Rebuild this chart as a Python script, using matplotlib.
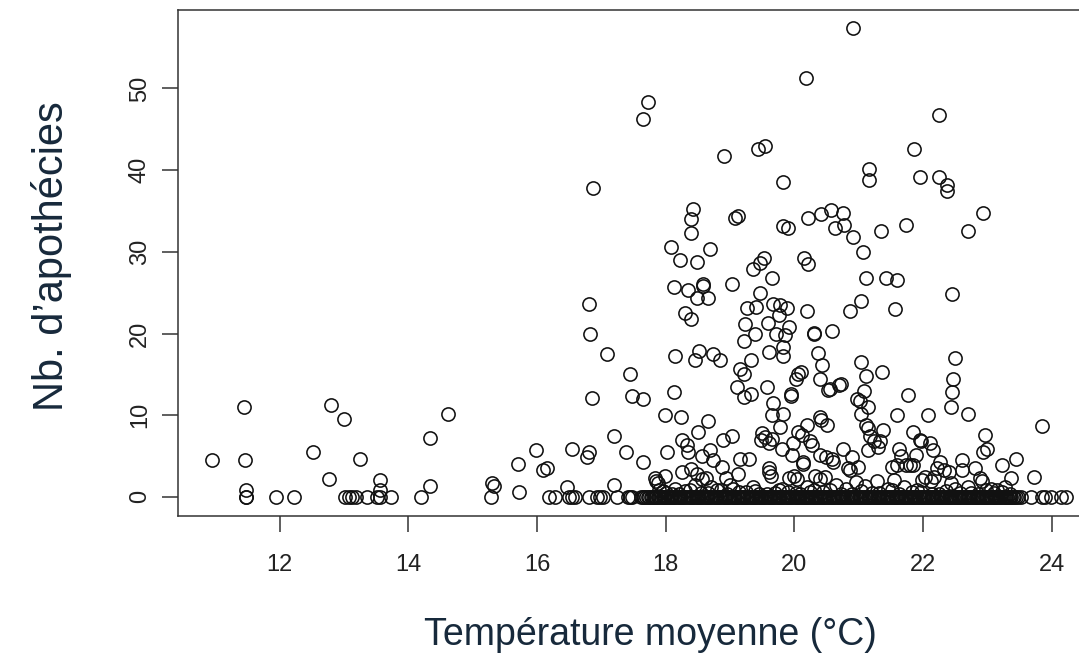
import matplotlib
matplotlib.use("Agg")
import matplotlib.pyplot as plt

# ---- data ----
# points with a non-zero count: (temperature, count)
temp_pos = [
    17.72, 17.64, 18.91, 19.44, 19.54, 16.87, 19.83,
    20.91, 20.18, 22.24, 21.86, 21.16, 21.16, 21.95, 22.24, 22.37, 22.37,
    18.43, 18.39, 19.08, 19.12, 18.39, 18.08, 18.69, 18.22, 18.48, 19.36, 19.46, 19.53,
    19.65, 18.13, 18.35, 18.58, 18.58, 19.03, 18.48, 18.65, 19.46, 19.27, 19.40, 19.67,
    19.76, 16.80, 18.30, 18.40, 19.23, 19.59, 19.39, 16.83, 19.21, 19.72, 17.08, 18.14,
    18.52, 18.45, 18.74, 18.84, 19.32, 19.16, 19.61, 19.21, 17.45, 19.10, 19.58, 18.13,
    16.86, 17.48, 17.65, 19.21, 19.32, 19.66,
    22.93, 22.69, 20.57, 20.76, 20.42, 20.21, 19.83, 19.90, 20.63, 20.77, 20.91, 21.34,
    21.73, 21.07, 20.15, 20.21, 21.12, 21.43, 21.59, 22.45, 21.03, 20.86, 21.57, 19.89,
    19.77, 20.20, 19.92, 19.86, 20.31, 20.31, 20.58, 19.83, 19.83, 20.36, 20.43, 21.04,
    21.11, 21.36, 22.49, 22.47, 22.45, 20.10, 20.06, 20.03, 20.40, 20.72, 20.56, 21.08,
    19.95, 19.95, 20.97, 21.77,
    10.95, 11.44, 11.46, 11.47, 12.52, 12.80, 13.00, 12.76, 13.25, 13.56, 13.56, 14.34,
    14.34, 14.61,
    15.30, 15.33, 15.72, 15.71, 15.98, 16.10, 16.15, 16.47, 16.54, 16.78, 16.81, 17.19,
    17.20, 17.38, 17.65, 17.99, 18.23, 18.02, 17.83, 17.85, 17.88, 17.99, 18.25, 18.33,
    18.35, 18.50, 18.65, 18.69, 18.57, 18.74, 18.89, 19.03, 18.87, 19.12, 18.93, 19.16,
    19.29, 19.65, 19.50, 19.48, 19.55, 19.60, 19.65, 19.60, 19.61, 19.63, 19.36,
    18.25, 18.40, 18.48, 18.57, 18.62, 18.45, 18.70, 19.00, 19.05, 18.15,
    19.83, 19.77, 20.39, 20.42, 20.51, 20.05, 20.11, 20.19, 20.24, 20.27, 19.98, 19.80,
    19.96, 20.14, 20.13, 20.39, 20.49, 20.58, 20.60, 20.76, 20.89, 20.84, 20.86, 20.99,
    19.92, 20.00, 20.04, 20.32, 20.40, 20.47, 20.52, 20.70, 21.02, 21.03, 21.14, 21.12,
    21.15, 21.17, 21.14, 21.23, 21.30, 21.33, 21.37, 21.28, 21.55, 21.60, 21.63, 21.51,
    21.59, 21.66, 21.74, 21.79, 21.84, 21.85, 21.95, 21.97, 21.89, 22.08, 22.10, 22.16,
    22.22, 22.27, 22.32, 22.40, 22.17, 22.12, 21.98, 22.03, 22.44, 22.69, 22.60, 22.61,
    22.80, 22.88, 22.91, 22.44, 22.96, 22.99, 22.93, 23.23, 23.44, 23.37, 23.84, 23.72,
    23.27,
    20.65, 20.80, 20.95, 21.10, 21.45, 21.70, 21.90, 22.50, 22.70, 23.05, 23.15, 19.80,
    19.90, 20.20, 20.30, 18.80, 18.30, 18.00, 17.90,
    18.10, 18.55, 18.95, 19.25, 19.45, 19.70, 20.08, 20.45, 20.90, 21.20, 21.62, 21.82,
    22.25, 22.58, 22.85, 23.10, 23.35,
    17.95, 18.20, 18.38, 18.66, 18.86, 19.14, 19.38, 19.58, 19.76, 20.02, 20.24, 20.56,
    20.72, 21.04, 21.32, 21.52, 21.96, 22.14, 22.36, 22.75, 22.98, 23.22,
]
nb_pos = [
    48.3, 46.3, 41.7, 42.6, 42.9, 37.8, 38.6,
    57.4, 51.3, 46.8, 42.6, 40.1, 38.8, 39.1, 39.1, 38.2, 37.4,
    35.3, 34.0, 34.1, 34.4, 32.3, 30.6, 30.3, 29.0, 28.8, 27.9, 28.6, 29.3,
    26.8, 25.7, 25.3, 26.0, 25.8, 26.0, 24.3, 24.3, 25.0, 23.1, 23.3, 23.6,
    22.3, 23.6, 22.5, 21.8, 21.2, 21.3, 20.0, 20.0, 19.1, 19.9, 17.5, 17.2,
    17.8, 16.8, 17.5, 16.8, 16.8, 15.7, 17.7, 15.0, 15.0, 13.5, 13.5, 12.8,
    12.1, 12.4, 12.0, 12.2, 12.6, 11.5,
    34.8, 32.5, 35.1, 34.8, 34.6, 34.1, 33.2, 32.9, 32.9, 33.3, 31.8, 32.5,
    33.3, 30.0, 29.3, 28.5, 26.8, 26.8, 26.5, 24.8, 24.0, 22.8, 23.0, 23.1,
    23.5, 22.8, 20.8, 19.8, 20.1, 19.9, 20.3, 18.4, 17.2, 17.6, 16.2, 16.5,
    14.8, 15.3, 17.0, 14.4, 12.8, 15.3, 15.0, 14.4, 14.4, 13.8, 13.2, 13.0,
    12.6, 12.3, 12.0, 12.5,
    4.5, 11.0, 4.5, 0.9, 5.5, 11.3, 9.5, 2.2, 4.6, 0.8, 2.1, 1.3,
    7.2, 10.2,
    1.7, 1.3, 0.6, 4.0, 5.8, 3.3, 3.5, 1.2, 5.9, 4.9, 5.5, 7.5,
    1.5, 5.5, 4.3, 10.0, 9.8, 5.5, 2.3, 1.9, 1.7, 2.5, 7.0, 6.4,
    5.5, 8.0, 9.3, 5.7, 5.0, 4.5, 7.0, 7.5, 3.7, 2.8, 2.3, 4.7,
    4.7, 10.0, 7.8, 7.0, 7.3, 6.6, 7.1, 3.5, 3.0, 2.5, 1.2,
    3.0, 3.4, 2.8, 2.2, 2.3, 1.5, 1.2, 1.5, 1.0, 1.0,
    10.2, 8.6, 9.8, 9.4, 8.8, 8.0, 7.6, 8.8, 6.8, 6.3, 6.6, 5.9,
    5.1, 4.3, 4.0, 5.1, 4.9, 4.7, 4.3, 5.9, 4.9, 3.5, 3.3, 3.7,
    2.3, 2.5, 2.2, 2.6, 2.2, 2.4, 13.1, 13.7, 11.7, 10.2, 11.0, 8.8,
    8.4, 7.5, 5.8, 6.9, 6.1, 6.9, 8.2, 1.9, 2.1, 10.0, 5.9, 3.7,
    3.9, 5.0, 3.9, 3.9, 3.9, 8.0, 7.0, 6.8, 5.1, 10.0, 6.6, 5.7,
    3.5, 4.3, 3.3, 3.0, 2.4, 1.9, 2.1, 2.4, 11.0, 10.2, 4.5, 3.3,
    3.5, 2.3, 1.9, 1.7, 7.6, 5.9, 5.5, 3.9, 4.7, 2.3, 8.7, 2.4,
    1.2,
    1.5, 1.0, 1.8, 1.3, 1.0, 1.2, 0.8, 1.0, 1.2, 1.0, 0.8, 1.0,
    0.6, 1.2, 0.9, 0.8, 0.7, 0.5, 0.9,
    0.4, 0.5, 0.3, 0.6, 0.4, 0.5, 0.3, 0.6, 0.4, 0.5, 0.3, 0.6,
    0.4, 0.5, 0.3, 0.5, 0.4,
    0.7, 0.4, 0.8, 0.5, 0.9, 0.6, 0.7, 0.4, 0.8, 0.5, 0.6, 0.9,
    0.4, 0.7, 0.5, 0.8, 0.6, 0.4, 0.7, 0.5, 0.8, 0.6,
]
# points with a count of zero: temperature only
temp_zero = [
    11.47, 11.48, 11.94, 12.23, 13.02, 13.07, 13.12, 13.18, 13.36, 13.52, 13.56, 13.73,
    14.20, 15.29, 16.19, 16.28, 16.49, 16.55, 16.59, 16.80, 16.93, 16.98, 17.02, 17.24,
    17.41, 17.45, 17.48,
    17.61, 17.66, 17.69, 17.74, 17.77, 17.81, 17.85, 17.88, 17.92, 17.95, 17.99, 18.02,
    18.06, 18.08, 18.13, 18.15, 18.20, 18.22, 18.27, 18.29, 18.34, 18.37, 18.41, 18.43,
    18.48, 18.50, 18.55, 18.57, 18.62, 18.64, 18.69, 18.71, 18.76, 18.78, 18.83, 18.85,
    18.90, 18.92, 18.97, 18.99, 19.04, 19.06, 19.11, 19.13, 19.18, 19.20, 19.25, 19.27,
    19.32, 19.34, 19.39, 19.41, 19.46, 19.48, 19.53, 19.55, 19.60, 19.62, 19.67, 19.69,
    19.74, 19.76, 19.81, 19.83, 19.88, 19.90, 19.95, 19.97, 20.02, 20.04, 20.09, 20.11,
    20.16, 20.18, 20.23, 20.25, 20.30, 20.32, 20.37, 20.39, 20.44, 20.46, 20.51, 20.53,
    20.58, 20.60, 20.65, 20.67, 20.72, 20.74, 20.79, 20.81, 20.86, 20.88, 20.93, 20.95,
    21.00, 21.02, 21.07, 21.09, 21.14, 21.16, 21.21, 21.23, 21.28, 21.30, 21.35, 21.37,
    21.42, 21.44, 21.49, 21.51, 21.56, 21.58, 21.63, 21.65, 21.70, 21.72, 21.77, 21.79,
    21.84, 21.86, 21.91, 21.93, 21.98, 22.00, 22.05, 22.07, 22.12, 22.14, 22.19, 22.21,
    22.26, 22.28, 22.33, 22.35, 22.40, 22.42, 22.47, 22.49, 22.54, 22.56, 22.61, 22.63,
    22.68, 22.70, 22.75, 22.77, 22.82, 22.84, 22.89, 22.91, 22.96, 22.98, 23.03, 23.05,
    23.10, 23.12, 23.17, 23.19, 23.24, 23.27, 23.31, 23.35, 23.39, 23.44,
    23.52, 23.68, 23.84, 23.89, 23.99, 24.14, 24.22,
]
# further zero counts packed inside the dense band
temp_zero_band = [
    17.64, 17.72, 17.79, 17.83, 17.90, 17.97, 18.04, 18.10, 18.17, 18.24, 18.31, 18.39,
    18.45, 18.52, 18.59, 18.66, 18.73, 18.80, 18.87, 18.94, 19.01, 19.08, 19.15, 19.22,
    19.29, 19.36, 19.43, 19.50, 19.57, 19.64, 19.71, 19.78, 19.85, 19.92, 19.99, 20.06,
    20.13, 20.20, 20.27, 20.34, 20.41, 20.48, 20.55, 20.62, 20.69, 20.76, 20.83, 20.90,
    20.97, 21.04, 21.11, 21.18, 21.25, 21.32, 21.39, 21.46, 21.53, 21.60, 21.67, 21.74,
    21.81, 21.88, 21.95, 22.02, 22.09, 22.16, 22.23, 22.30, 22.37, 22.44, 22.51, 22.58,
    22.65, 22.72, 22.79, 22.86, 22.93, 23.00, 23.07, 23.14, 23.21, 23.29, 23.33, 23.37,
    23.42, 23.47,
]
x_ticks = [12, 14, 16, 18, 20, 22, 24]
y_ticks = [0, 10, 20, 30, 40, 50]
x_label = "Température moyenne (°C)"
y_label = "Nb. d’apothécies"

# ---- figure ----
W, H = 1079, 656
fig = plt.figure(figsize=(W / 100, H / 100), dpi=100)
plt.rcParams["font.family"] = ["Liberation Sans", "DejaVu Sans"]

ax = fig.add_axes([178 / W, 140.3 / H, (1102 - 178) / W, 505.7 / H])
ax.set_xlim(10.42, 24.78)
ax.set_ylim(-2.3, 59.6)

mk = dict(marker="o", linestyle="none", markerfacecolor="none",
          markeredgecolor="#111111", markersize=9.5, markeredgewidth=1.15)
ax.plot(temp_zero, [0] * len(temp_zero), **mk)
ax.plot(temp_zero_band, [0] * len(temp_zero_band), **mk)
ax.plot(temp_pos, nb_pos, **mk)

for s in ax.spines.values():
    s.set_color("#333333")
    s.set_linewidth(1.1)

ax.set_xticks(x_ticks)
ax.set_xticklabels([str(t) for t in x_ticks])
ax.set_yticks(y_ticks)
ax.set_yticklabels([str(t) for t in y_ticks], rotation=90, va="center")
ax.tick_params(axis="both", direction="out", length=11.5, width=1.1,
               color="#333333", labelsize=17, labelcolor="#222222")
ax.tick_params(axis="x", pad=16)
ax.tick_params(axis="y", pad=8)

fig.text(650 / W, 1 - 635 / H, x_label, ha="center", va="center",
         fontsize=27, color="#17293b")
fig.text(52 / W, 1 - 256 / H, y_label, ha="center", va="center",
         rotation=90, fontsize=30, color="#17293b")

fig.savefig("out.png", dpi=100)
